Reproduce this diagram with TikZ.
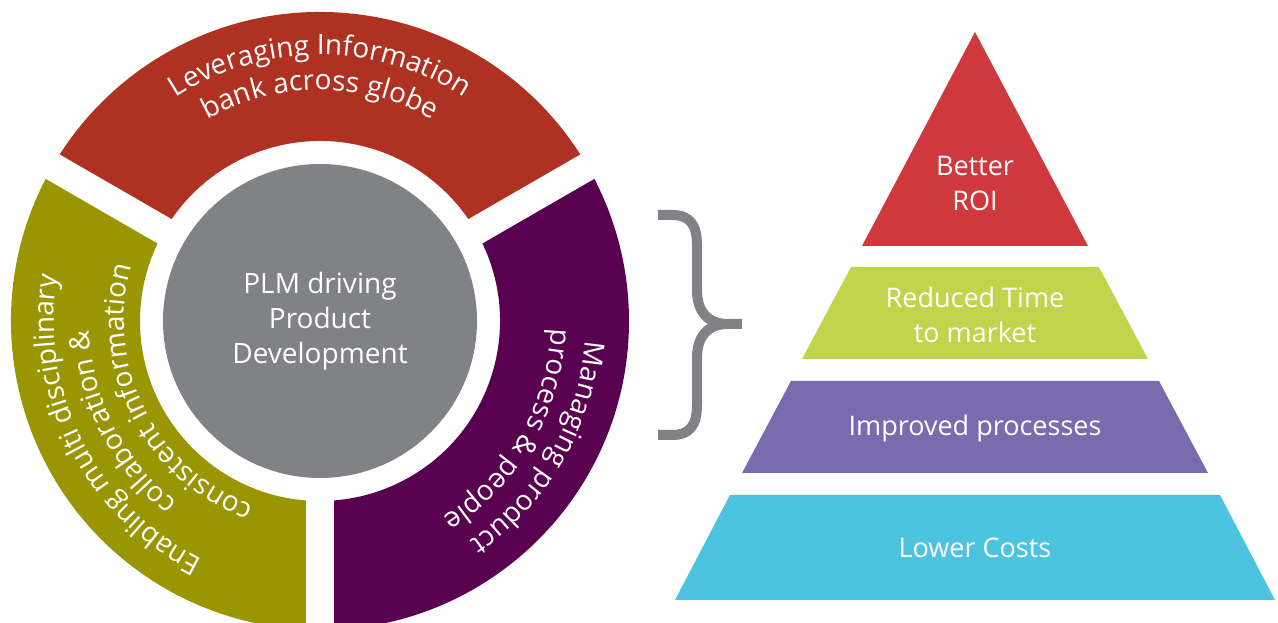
\documentclass[tikz,border=0pt]{standalone}
\usepackage{fontspec}
\setmainfont{Open Sans}
\usetikzlibrary{decorations.text}

\definecolor{segred}{HTML}{AE3121}
\definecolor{segolive}{HTML}{9A9602}
\definecolor{segplum}{HTML}{5A0050}
\definecolor{hubgray}{HTML}{818285}
\definecolor{pyrred}{HTML}{CF393E}
\definecolor{pyrlime}{HTML}{C2D44C}
\definecolor{pyrviolet}{HTML}{7A6BAF}
\definecolor{pyrcyan}{HTML}{4DC4DF}

\newcommand\ringfont{\fontsize{28}{35}\selectfont}
\newcommand\pyrfont{\fontsize{27}{35}\selectfont}

\begin{document}
\begin{tikzpicture}[x=1pt, y=1pt,
  ringtext/.style={decorate, decoration={text along path, text align=center,
      text color=white, text={|\ringfont|#1}}},
  gapline/.style={white, line width=28pt},
  hub/.style={circle, fill=hubgray, minimum size=314pt, inner sep=0pt,
      text=white, font=\ringfont, align=center},
  pyrlabel/.style={text=white, font=\pyrfont, align=center, inner sep=0pt},
  bracestroke/.style={draw=hubgray, line width=10pt}
]
\useasboundingbox (0,0) rectangle (1278,623);
\clip (0,0) rectangle (1278,623);
\fill[white] (0,0) rectangle (1278,623);

% ---- wheel ----
\coordinate (C) at (320,302);
\fill[segred] ([shift={(30:309)}]C) arc[start angle=30, end angle=150, radius=309]
   -- ([shift={(150:180)}]C) arc[start angle=150, end angle=30, radius=180] -- cycle;
\fill[segolive] ([shift={(150:309)}]C) arc[start angle=150, end angle=270, radius=309]
   -- ([shift={(270:180)}]C) arc[start angle=270, end angle=150, radius=180] -- cycle;
\fill[segplum] ([shift={(270:309)}]C) arc[start angle=270, end angle=390, radius=309]
   -- ([shift={(390:180)}]C) arc[start angle=390, end angle=270, radius=180] -- cycle;

% white separators between the three segments
\foreach \a in {30,150,270} \draw[gapline] (C) -- ++(\a:340);

\node[hub] (hub) at (C) {PLM driving\\Product\\Development};

% curved captions (clockwise arcs, letters facing outward)
\path[ringtext={Leveraging Information}] ([shift={(150:266)}]C) arc[start angle=150, end angle=30, radius=266];
\path[ringtext={bank across globe}] ([shift={(150:231)}]C) arc[start angle=150, end angle=30, radius=231];

\path[ringtext={Enabling multi disciplinary}] ([shift={(267:266)}]C) arc[start angle=267, end angle=147, radius=266];
\path[ringtext={collaboration {\&}}] ([shift={(267:231)}]C) arc[start angle=267, end angle=147, radius=231];
\path[ringtext={consistent information}] ([shift={(267:196)}]C) arc[start angle=267, end angle=147, radius=196];

\path[ringtext={Managing product}] ([shift={(30:266)}]C) arc[start angle=30, end angle=-90, radius=266];
\path[ringtext={process {\&} people}] ([shift={(30:231)}]C) arc[start angle=30, end angle=-90, radius=231];

% ---- brace ----
\draw[bracestroke] (658,408) -- (672,408) .. controls (690,408) and (697,398) .. (697,378)
   -- (697,333) .. controls (697,311) and (708,299) .. (728,299) -- (742,299)
   (742,299) -- (728,299) .. controls (708,299) and (697,287) .. (697,265)
   -- (697,218) .. controls (697,198) and (690,188) .. (672,188) -- (658,188);

% ---- pyramid ----
\fill[pyrred] (975,591) -- (1088,377) -- (862,377) -- cycle;
\fill[pyrlime] (851,356) -- (1099,356) -- (1148,264) -- (802,264) -- cycle;
\fill[pyrviolet] (791,242) -- (1159,242) -- (1208,150) -- (742,150) -- cycle;
\fill[pyrcyan] (730,128) -- (1220,128) -- (1275,23) -- (675,23) -- cycle;

\node[pyrlabel] (roi) at (975,439) {Better\\ROI};
\node[pyrlabel] (time) at (975,308.5) {Reduced Time\\to market};
\node[pyrlabel, anchor=base] (proc) at (975,187) {Improved processes};
\node[pyrlabel, anchor=base] (cost) at (975,65) {Lower Costs};
\end{tikzpicture}
\end{document}
